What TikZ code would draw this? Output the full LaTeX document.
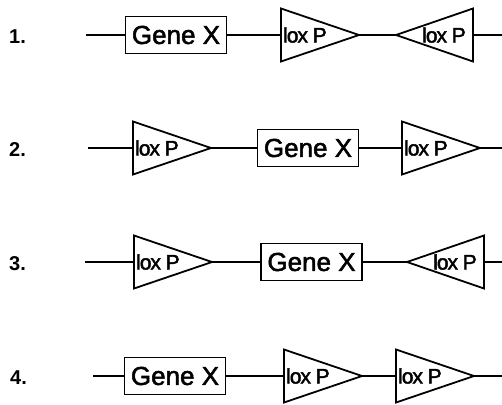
\documentclass[tikz,border=0pt]{standalone}
\usepackage{fontspec}
\setmainfont{Liberation Sans}
\usetikzlibrary{calc}
\tikzset{
  gene/.style={draw, line width=1.8pt, minimum width=101pt, minimum height=37pt, inner sep=0pt, font=\fontsize{26}{26}\selectfont\addfontfeature{FakeBold=2}},
  loxtxt/.style={inner sep=0pt, font=\fontsize{21}{21}\selectfont\addfontfeature{LetterSpace=-5,FakeBold=2}},
  tri/.style={draw, line width=1.8pt, line join=miter},
  wire/.style={line width=2.2pt},
  num/.style={font=\fontsize{20}{20}\selectfont\bfseries, anchor=west, inner sep=0pt}
}
\newcommand\loxR[3]{%
  \coordinate (#1-b) at (#2,#3);
  \coordinate (#1-t) at ($(#1-b)+(78,0)$);
  \draw[tri] ($(#1-b)+(0,-26.5)$) -- (#1-t) -- ($(#1-b)+(0,26.5)$) -- cycle;
  \node[loxtxt, anchor=west] (#1) at ($(#1-b)+(2,0)$) {lox P};
}
\newcommand\loxL[3]{%
  \coordinate (#1-b) at (#2,#3);
  \coordinate (#1-t) at ($(#1-b)+(-77,0)$);
  \draw[tri] ($(#1-b)+(0,-26.5)$) -- (#1-t) -- ($(#1-b)+(0,26.5)$) -- cycle;
  \node[loxtxt, anchor=east] (#1) at ($(#1-b)+(-7,0)$) {lox P};
}
\begin{document}
\begin{tikzpicture}[x=1pt, y=-1pt]
\useasboundingbox (0,0) rectangle (502,404);
% Row 1
\node[num] (n1) at (9,37) {1.};
\coordinate (s1) at (86,35);
\coordinate (e1) at (502,35);
\node[gene] (g1) at (176,35) {Gene X};
\loxR{l1a}{281}{35}
\loxL{l1b}{473}{35}
\draw[wire] (s1) -- (g1.west);
\draw[wire] (g1.east) -- (l1a-b);
\draw[wire] (l1a-t) -- (l1b-t);
\draw[wire] (l1b-b) -- (e1);
% Row 2
\node[num] (n2) at (9,150) {2.};
\coordinate (s2) at (88,148);
\coordinate (e2) at (502,148);
\loxR{l2a}{133}{148}
\node[gene] (g2) at (308,148) {Gene X};
\loxR{l2b}{402}{148}
\draw[wire] (s2) -- (l2a-b);
\draw[wire] (l2a-t) -- (g2.west);
\draw[wire] (g2.east) -- (l2b-b);
\draw[wire] (l2b-t) -- (e2);
% Row 3
\node[num] (n3) at (9,264) {3.};
\coordinate (s3) at (85,262);
\coordinate (e3) at (502,262);
\loxR{l3a}{134}{262}
\node[gene] (g3) at (311.5,262) {Gene X};
\loxL{l3b}{484}{262}
\draw[wire] (s3) -- (l3a-b);
\draw[wire] (l3a-t) -- (g3.west);
\draw[wire] (g3.east) -- (l3b-t);
\draw[wire] (l3b-b) -- (e3);
% Row 4
\node[num] (n4) at (10,378) {4.};
\coordinate (s4) at (93,376);
\coordinate (e4) at (502,376);
\node[gene] (g4) at (175,376) {Gene X};
\loxR{l4a}{284}{376}
\loxR{l4b}{396}{376}
\draw[wire] (s4) -- (g4.west);
\draw[wire] (g4.east) -- (l4a-b);
\draw[wire] (l4a-t) -- (l4b-b);
\draw[wire] (l4b-t) -- (e4);
\end{tikzpicture}
\end{document}
